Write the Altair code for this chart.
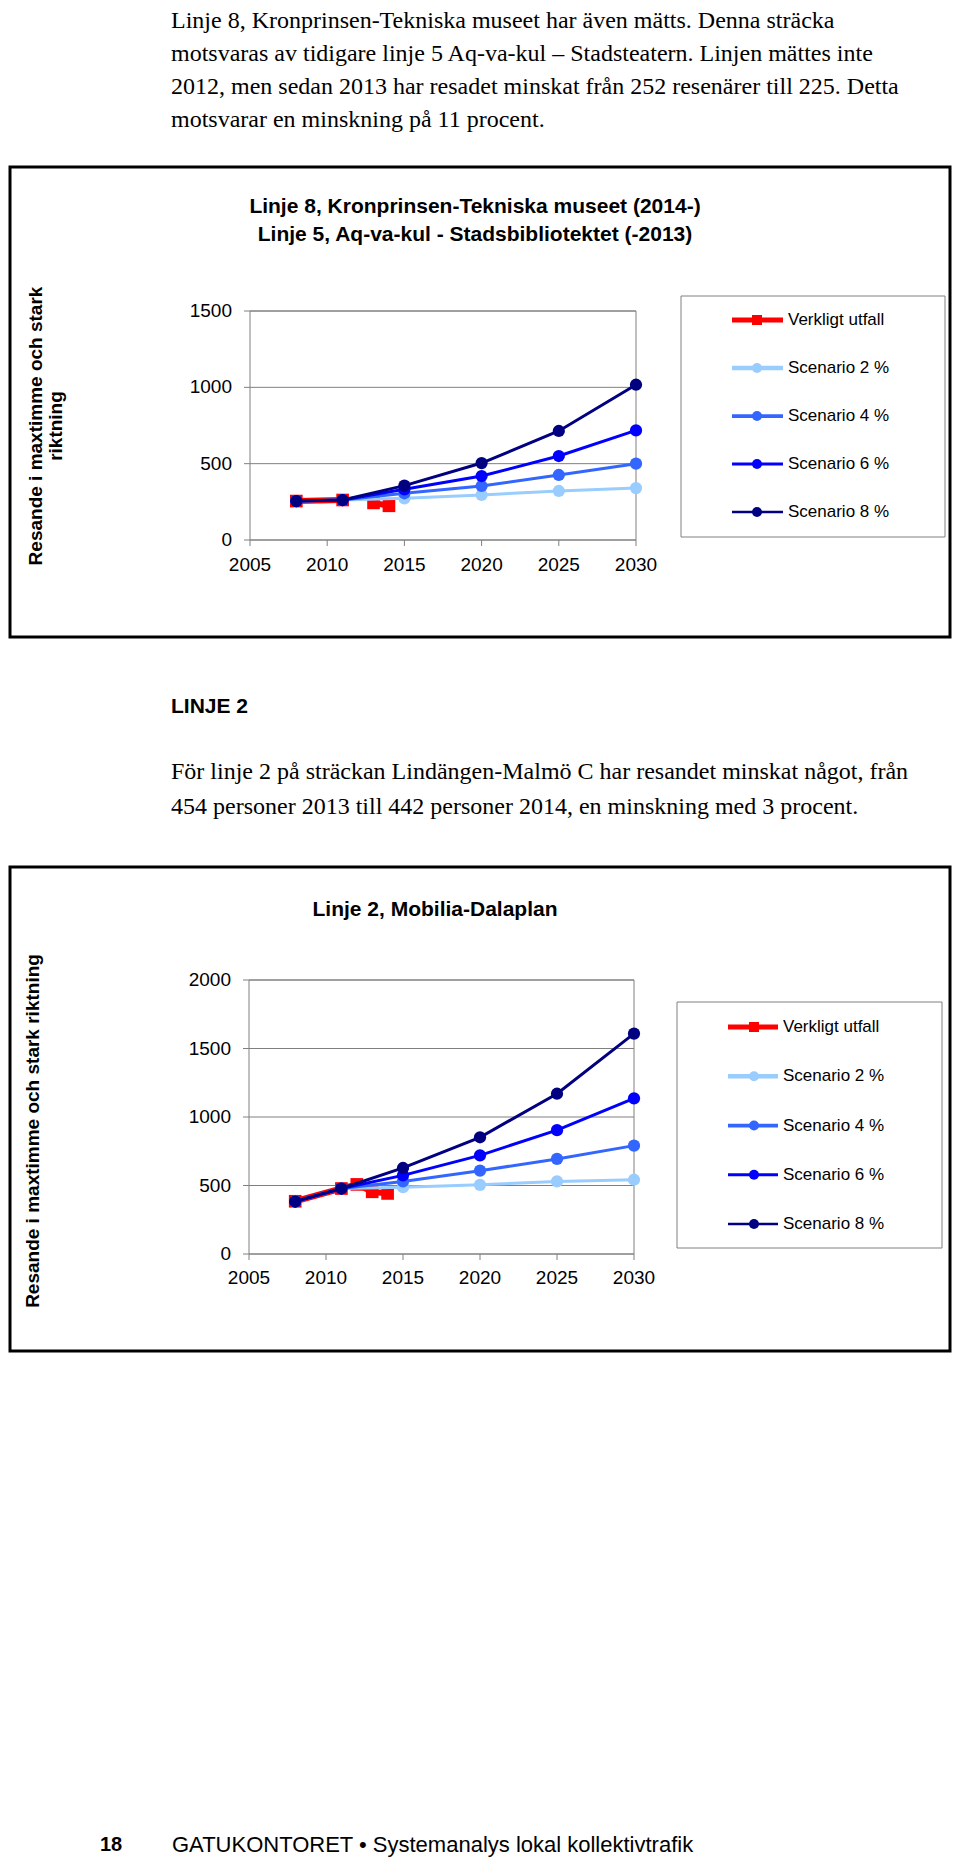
import altair as alt
import pandas as pd

OFF = 8
W, H = 944, 1852

SERIF = "Liberation Serif"
SANS = "Liberation Sans"

# ---------------- text content ----------------
para1 = [
    "Linje 8, Kronprinsen-Tekniska museet har även mätts. Denna sträcka",
    "motsvaras av tidigare linje 5 Aq-va-kul – Stadsteatern. Linjen mättes inte",
    "2012, men sedan 2013 har resadet minskat från 252 resenärer till 225. Detta",
    "motsvarar en minskning på 11 procent.",
]
heading2 = "LINJE 2"
para2 = [
    "För linje 2 på sträckan Lindängen-Malmö C har resandet minskat något, från",
    "454 personer 2013 till 442 personer 2014, en minskning med 3 procent.",
]
title1 = ["Linje 8, Kronprinsen-Tekniska museet (2014-)", "Linje 5, Aq-va-kul - Stadsbibliotektet (-2013)"]
title2 = ["Linje 2, Mobilia-Dalaplan"]
ytitle1 = ["Resande i maxtimme och stark", "riktning"]
ytitle2 = ["Resande i maxtimme och stark riktning"]
footer_num = "18"
footer_text = "GATUKONTORET • Systemanalys lokal kollektivtrafik"

# ---------------- series ----------------
names = ["Verkligt utfall", "Scenario 2 %", "Scenario 4 %", "Scenario 6 %", "Scenario 8 %"]
colors = ["#FF0000", "#99CCFF", "#3366FF", "#0000FF", "#000080"]
xticks = [2005, 2010, 2015, 2020, 2025, 2030]
scen_years = [2008, 2011, 2015, 2020, 2025, 2030]

# Chart 1
c1_yticks = [0, 500, 1000, 1500]
c1_red_years = [2008, 2011, 2013, 2014]
c1_red_vals = [255, 262, 243, 224]
c1_red_seg = [1, 1, 2, 2]
c1_s2 = [255, 262, 273, 295, 321, 340]
c1_s4 = [255, 262, 306, 354, 426, 500]
c1_s6 = [255, 262, 332, 419, 550, 718]
c1_s8 = [255, 262, 356, 504, 714, 1017]

# Chart 2
c2_yticks = [0, 500, 1000, 1500, 2000]
c2_red_years = [2008, 2011, 2012, 2013, 2014]
c2_red_vals = [385, 478, 508, 454, 442]
c2_red_seg = [1, 1, 1, 1, 1]
c2_s2 = [383, 478, 488, 505, 530, 542]
c2_s4 = [383, 478, 530, 608, 694, 791]
c2_s6 = [383, 478, 574, 720, 904, 1136]
c2_s8 = [383, 478, 628, 852, 1170, 1609]

ONE = alt.Data(values=[{}])
GRAY = "#808080"


def T(text, x, y, size, font=SANS, weight="normal", align="left", angle=0):
    return alt.Chart(ONE).mark_text(
        text=text, font=font, fontSize=size, fontWeight=weight,
        align=align, baseline="middle", angle=angle, color="black"
    ).encode(x=alt.value(x - OFF), y=alt.value(y - OFF))


def box(x0, x1, y0, y1, color="black", sw=3):
    return alt.Chart(ONE).mark_rect(fillOpacity=0, stroke=color, strokeWidth=sw).encode(
        x=alt.value(x0 - OFF), x2=alt.value(x1 - OFF), y=alt.value(y0 - OFF), y2=alt.value(y1 - OFF)
    )


def chart_layers(px0, px1, py0, py1, ymax, yticks, red_years, red_vals, red_seg, scen,
                 xlab_y, ylab_x, leg, leg_ys, leg_line, leg_text_x):
    xs = alt.Scale(domain=[2005, 2030], range=[px0 - OFF, px1 - OFF], nice=False, zero=False)
    ys = alt.Scale(domain=[0, ymax], range=[py1 - OFF, py0 - OFF], nice=False, zero=False)
    L = []
    ydf = pd.DataFrame({"v": yticks, "lab": [str(v) for v in yticks]})
    xdf = pd.DataFrame({"yr": xticks, "lab": [str(v) for v in xticks]})
    # gridlines
    L.append(alt.Chart(ydf).mark_rule(color=GRAY, strokeWidth=1).encode(
        y=alt.Y("v:Q", scale=ys, axis=None), x=alt.value(px0 - OFF), x2=alt.value(px1 - OFF)))
    # frame
    fdf = pd.DataFrame({"a": [2005], "b": [2030], "c": [0], "d": [ymax]})
    L.append(alt.Chart(fdf).mark_rect(fillOpacity=0, stroke=GRAY, strokeWidth=1).encode(
        x=alt.X("a:Q", scale=xs, axis=None), x2="b:Q",
        y=alt.Y("c:Q", scale=ys, axis=None), y2="d:Q"))
    # tick marks
    L.append(alt.Chart(xdf).mark_rule(color=GRAY).encode(
        x=alt.X("yr:Q", scale=xs, axis=None), y=alt.value(py1 - OFF), y2=alt.value(py1 - OFF + 6)))
    L.append(alt.Chart(ydf).mark_rule(color=GRAY).encode(
        y=alt.Y("v:Q", scale=ys, axis=None), x=alt.value(px0 - OFF - 6), x2=alt.value(px0 - OFF)))
    # tick labels
    L.append(alt.Chart(xdf).mark_text(font=SANS, fontSize=19, align="center", baseline="middle", color="black").encode(
        x=alt.X("yr:Q", scale=xs, axis=None), y=alt.value(xlab_y - OFF), text="lab:N"))
    L.append(alt.Chart(ydf).mark_text(font=SANS, fontSize=19, align="right", baseline="middle", color="black").encode(
        y=alt.Y("v:Q", scale=ys, axis=None), x=alt.value(ylab_x - OFF), text="lab:N"))
    # red actuals
    rdf = pd.DataFrame({"year": red_years, "value": red_vals, "seg": red_seg})
    L.append(alt.Chart(rdf).mark_line(color=colors[0], strokeWidth=6).encode(
        x=alt.X("year:Q", scale=xs, axis=None), y=alt.Y("value:Q", scale=ys, axis=None), detail="seg:N"))
    L.append(alt.Chart(rdf).mark_point(shape="square", filled=True, size=160, color=colors[0], opacity=1).encode(
        x=alt.X("year:Q", scale=xs, axis=None), y=alt.Y("value:Q", scale=ys, axis=None)))
    # scenarios
    for vals, col in zip(scen, colors[1:]):
        sdf = pd.DataFrame({"year": scen_years, "value": vals})
        L.append(alt.Chart(sdf).mark_line(color=col, strokeWidth=3).encode(
            x=alt.X("year:Q", scale=xs, axis=None), y=alt.Y("value:Q", scale=ys, axis=None)))
        L.append(alt.Chart(sdf).mark_point(shape="circle", filled=True, size=150, color=col, opacity=1).encode(
            x=alt.X("year:Q", scale=xs, axis=None), y=alt.Y("value:Q", scale=ys, axis=None)))
    # legend
    lx0, lx1, ly0, ly1 = leg
    L.append(box(lx0, lx1, ly0, ly1, color=GRAY, sw=1))
    ldf = pd.DataFrame({"name": names})
    lys = alt.Scale(type="point", domain=names, range=[leg_ys[0] - OFF, leg_ys[1] - OFF], padding=0)
    cs = alt.Scale(domain=names, range=colors)
    a, c, b = leg_line
    L.append(alt.Chart(ldf).mark_rule().encode(
        y=alt.Y("name:N", scale=lys, axis=None), x=alt.value(a - OFF), x2=alt.value(b - OFF),
        color=alt.Color("name:N", scale=cs, legend=None),
        strokeWidth=alt.StrokeWidth("name:N", scale=alt.Scale(domain=names, range=[5, 2.5, 2.5, 2.5, 2.5]), legend=None)))
    L.append(alt.Chart(ldf).mark_point(filled=True, opacity=1, size=100).encode(
        y=alt.Y("name:N", scale=lys, axis=None), x=alt.value(c - OFF),
        color=alt.Color("name:N", scale=cs, legend=None),
        shape=alt.Shape("name:N", scale=alt.Scale(domain=names, range=["square", "circle", "circle", "circle", "circle"]), legend=None)))
    L.append(alt.Chart(ldf).mark_text(font=SANS, fontSize=17, align="left", baseline="middle", color="black").encode(
        y=alt.Y("name:N", scale=lys, axis=None), x=alt.value(leg_text_x - OFF), text="name:N"))
    return L


layers = []
# paragraph 1
for i, s in enumerate(para1):
    layers.append(T(s, 171, 21 + i * 33, 24, font=SERIF))
# chart 1
layers.append(box(10, 950, 167, 637))
layers.append(T(title1[0], 475, 207, 21, weight="bold", align="center"))
layers.append(T(title1[1], 475, 235, 21, weight="bold", align="center"))
layers.append(T(ytitle1[0], 36, 426, 19, weight="bold", align="center", angle=270))
layers.append(T(ytitle1[1], 56, 426, 19, weight="bold", align="center", angle=270))
layers += chart_layers(250, 636, 311, 540, 1500, c1_yticks, c1_red_years, c1_red_vals, c1_red_seg,
                       [c1_s2, c1_s4, c1_s6, c1_s8], 565, 232,
                       (681, 945, 296, 537), (320, 512), (732, 757, 783), 788)
# heading + paragraph 2
layers.append(T(heading2, 171, 707, 21, weight="bold"))
for i, s in enumerate(para2):
    layers.append(T(s, 171, 772 + i * 35, 24, font=SERIF))
# chart 2
layers.append(box(10, 950, 867, 1351))
layers.append(T(title2[0], 435, 910, 21, weight="bold", align="center"))
layers.append(T(ytitle2[0], 33, 1131, 19, weight="bold", align="center", angle=270))
layers += chart_layers(249, 634, 980, 1254, 2000, c2_yticks, c2_red_years, c2_red_vals, c2_red_seg,
                       [c2_s2, c2_s4, c2_s6, c2_s8], 1278, 231,
                       (677, 942, 1002, 1248), (1027, 1224), (728, 754, 778), 783)
# footer
layers.append(T(footer_num, 100, 1845, 20, weight="bold"))
layers.append(T(footer_text, 172, 1845, 22))

chart = alt.layer(*layers).resolve_scale(
    x="independent", y="independent", color="independent",
    strokeWidth="independent", shape="independent"
).properties(
    width=W, height=H, autosize=alt.AutoSizeParams(type="none"), padding=0
).configure_view(stroke=None)

chart.save("out.html", embed_options={"renderer": "svg", "actions": False})
